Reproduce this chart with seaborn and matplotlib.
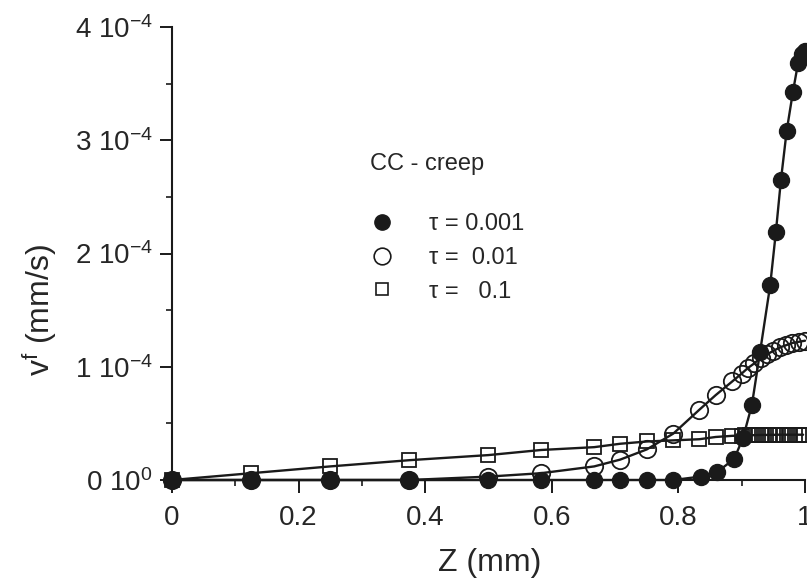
import numpy as np
import pandas as pd
import seaborn as sns
import matplotlib.pyplot as plt
from matplotlib.lines import Line2D
from matplotlib.ticker import MultipleLocator

# Z (mm) and v^f (units of 1e-4 mm/s)
z_001 = [0, 0.125, 0.25, 0.375, 0.5, 0.583, 0.667, 0.708, 0.75, 0.792, 0.835, 0.861,
         0.888, 0.902, 0.916, 0.929, 0.945, 0.954, 0.962, 0.971, 0.981, 0.989, 0.996, 1.0]
v_001 = [0, 0, 0, 0, 0, 0, 0, 0, 0, 0, 0.03, 0.07,
         0.185, 0.37, 0.66, 1.13, 1.72, 2.19, 2.65, 3.08, 3.43, 3.68, 3.76, 3.79]

z_01 = [0, 0.125, 0.25, 0.375, 0.5, 0.583, 0.667, 0.708, 0.75, 0.792, 0.833, 0.859,
        0.885, 0.9, 0.91, 0.92, 0.93, 0.94, 0.95, 0.96, 0.97, 0.98, 0.99, 1.0]
v_01 = [0, 0, 0, 0, 0.03, 0.06, 0.12, 0.18, 0.27, 0.41, 0.62, 0.75,
        0.87, 0.94, 0.99, 1.03, 1.08, 1.11, 1.14, 1.17, 1.19, 1.21, 1.22, 1.23]

z_1 = [0, 0.125, 0.25, 0.375, 0.5, 0.583, 0.667, 0.708, 0.75, 0.792, 0.833, 0.859,
       0.885, 0.9, 0.906, 0.913, 0.919, 0.926, 0.932, 0.939, 0.945, 0.952, 0.958,
       0.965, 0.971, 0.977, 0.984, 0.99, 0.997]
v_1 = [0, 0.06, 0.12, 0.175, 0.22, 0.265, 0.29, 0.32, 0.34, 0.35, 0.36, 0.38,
       0.39, 0.392, 0.394, 0.395, 0.396, 0.397, 0.398, 0.398, 0.399, 0.399, 0.4,
       0.4, 0.4, 0.4, 0.4, 0.4, 0.4]

legend_labels = ['\u03c4 = 0.001', '\u03c4 =  0.01', '\u03c4 =   0.1']
x_ticks = [0, 0.2, 0.4, 0.6, 0.8, 1.0]
x_ticklabels = ['0', '0.2', '0.4', '0.6', '0.8', '1']
y_ticks = [0, 1e-4, 2e-4, 3e-4, 4e-4]
y_ticklabels = ['0 10$^{0}$', '1 10$^{-4}$', '2 10$^{-4}$', '3 10$^{-4}$', '4 10$^{-4}$']

sns.set_theme(style='ticks')
plt.rcParams['font.family'] = ['Liberation Sans', 'DejaVu Sans']
plt.rcParams['mathtext.fontset'] = 'custom'
plt.rcParams['mathtext.rm'] = 'Liberation Sans'
plt.rcParams['mathtext.default'] = 'regular'

W, H = 807, 581
fig = plt.figure(figsize=(W / 100, H / 100), dpi=100)
ax = fig.add_axes([172 / W, 1 - 480 / H, 633 / W, 453 / H])

styles = [
    (z_1, v_1, dict(marker='s', ms=10, mfc='none', mew=1.3)),
    (z_01, v_01, dict(marker='o', ms=12.5, mfc='none', mew=1.3)),
    (z_001, v_001, dict(marker='o', ms=11.5, mfc='k', mew=1.0)),
]
for z, v, kw in styles:
    sns.lineplot(x=z, y=np.array(v) * 1e-4, ax=ax, color='k', lw=1.7, mec='k',
                 estimator=None, sort=False, legend=False, clip_on=False, **kw)

ax.set_xlim(0, 1)
ax.set_ylim(0, 4e-4)
ax.set_xticks(x_ticks)
ax.set_xticklabels(x_ticklabels)
ax.set_yticks(y_ticks)
ax.set_yticklabels(y_ticklabels)
ax.xaxis.set_minor_locator(MultipleLocator(0.1))
ax.yaxis.set_minor_locator(MultipleLocator(0.5e-4))
ax.tick_params(which='major', length=9, width=1.4, labelsize=20, color='k')
ax.tick_params(axis='x', which='major', pad=9)
ax.tick_params(axis='y', which='major', pad=5)
ax.tick_params(which='minor', length=4.5, width=1.2, color='k')
sns.despine(ax=ax)
for s in ['left', 'bottom']:
    ax.spines[s].set_linewidth(1.5)
    ax.spines[s].set_color('k')

ax.set_xlabel('Z (mm)', fontsize=23)
ax.set_ylabel('v$^{f}$ (mm/s)', fontsize=23)
ax.xaxis.set_label_coords(0.502, -0.15)
ax.yaxis.set_label_coords(-0.178, 0.375)

fig.text(370 / W, 1 - 164 / H, 'CC - creep', fontsize=17, va='center', ha='left')
handles = [
    Line2D([], [], ls='none', marker='o', ms=11, mfc='k', mec='k'),
    Line2D([], [], ls='none', marker='o', ms=12, mfc='none', mec='k', mew=1.2),
    Line2D([], [], ls='none', marker='s', ms=8, mfc='none', mec='k', mew=1.2),
]
ax.legend(handles, legend_labels, loc='upper left', bbox_to_anchor=(370 / W, 1 - 213 / H),
          bbox_transform=fig.transFigure, frameon=False, borderpad=0, borderaxespad=0,
          handlelength=1.0, handletextpad=1.5, labelspacing=0.5, fontsize=17)

fig.savefig('out.png', dpi=100)
